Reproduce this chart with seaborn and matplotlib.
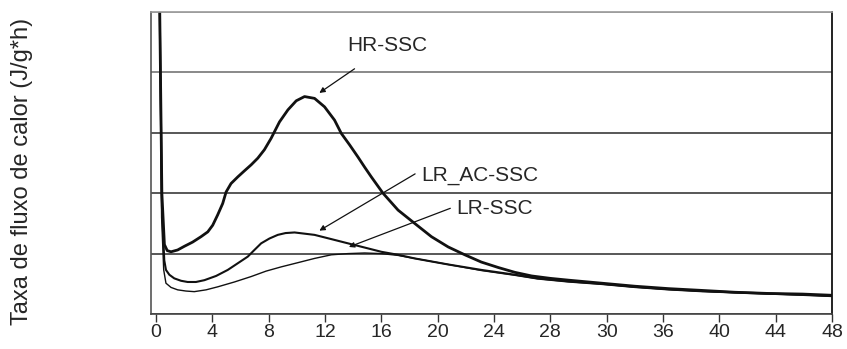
import matplotlib
matplotlib.use("Agg")
import matplotlib.pyplot as plt
import seaborn as sns
import pandas as pd

# Heat-flow curves (J/g*h) versus time (h)
hr_time = [0.25, 0.42, 0.6, 0.8, 1.07, 1.54, 2.01, 2.60, 3.20, 3.68, 4.03, 4.38, 4.74,
           4.98, 5.33, 5.81, 6.28, 6.76, 7.23, 7.70, 8.18, 8.77, 9.37, 9.96, 10.55,
           11.26, 11.97, 12.68, 13.16, 13.75, 14.34, 14.82, 15.29, 16.12, 17.19,
           18.37, 19.56, 20.75, 21.93, 23.1, 24.3, 25.48, 26.67, 28.0, 29.3, 31.65,
           34.0, 36.4, 38.8, 41.1, 43.5, 45.9, 48.0]
hr_flow = [5.4, 2.0, 1.15, 1.05, 1.03, 1.06, 1.12, 1.19, 1.28, 1.36, 1.47, 1.64, 1.83,
           2.02, 2.16, 2.27, 2.37, 2.47, 2.58, 2.72, 2.91, 3.18, 3.38, 3.53, 3.60,
           3.57, 3.43, 3.21, 2.99, 2.80, 2.60, 2.43, 2.27, 2.00, 1.72,
           1.50, 1.28, 1.11, 0.98, 0.86, 0.77, 0.69, 0.63, 0.59, 0.56, 0.51,
           0.46, 0.42, 0.39, 0.36, 0.34, 0.33, 0.31]

lrac_time = [0.25, 0.42, 0.59, 0.71, 0.95, 1.30, 1.78, 2.25, 2.84, 3.44, 4.27, 5.10,
             5.81, 6.52, 6.99, 7.47, 8.06, 8.65, 9.20, 9.84, 11.26, 12.45, 13.63,
             14.82, 16.0, 17.19, 18.37, 20.75, 23.1, 25.5, 27.1, 29.3, 31.65, 34.0,
             36.4, 38.8, 41.1, 43.5, 45.9, 48.0]
lrac_flow = [5.4, 1.8, 0.89, 0.73, 0.65, 0.59, 0.55, 0.53, 0.53, 0.56, 0.63, 0.73,
             0.84, 0.95, 1.06, 1.17, 1.25, 1.31, 1.34, 1.35, 1.31, 1.24, 1.17,
             1.10, 1.03, 0.98, 0.92, 0.82, 0.73, 0.65, 0.59, 0.54, 0.50, 0.45,
             0.41, 0.38, 0.36, 0.34, 0.32, 0.30]

lr_time = [0.25, 0.40, 0.55, 0.71, 1.07, 1.54, 2.13, 2.72, 3.56, 4.39, 5.57, 6.76,
           7.82, 8.89, 10.08, 11.26, 12.45, 13.63, 14.82, 16.0, 17.19, 18.37, 20.75,
           23.1, 25.5, 27.1, 29.3, 31.65, 34.0, 36.4, 38.8, 41.1, 43.5, 45.9, 48.0]
lr_flow = [5.4, 1.6, 0.73, 0.51, 0.44, 0.40, 0.38, 0.37, 0.40, 0.45, 0.53, 0.62,
           0.71, 0.78, 0.85, 0.92, 0.98, 1.00, 1.01, 1.00, 0.97, 0.92, 0.82,
           0.72, 0.64, 0.58, 0.53, 0.49, 0.44, 0.40, 0.37, 0.35, 0.33, 0.31, 0.29]

tick_pos = [0, 4, 8, 12, 16, 20, 24, 28, 32, 36, 40, 44, 48]
tick_labels = ["0", "4", "8", "12", "16", "20", "24", "28", "30", "36", "40", "44", "48"]

y_label = "Taxa de fluxo de calor (J/g*h)"

sns.set_style("white")
plt.rcParams["font.family"] = ["Liberation Sans", "DejaVu Sans"]

fig = plt.figure(figsize=(8.47, 3.49), dpi=100)
ax = fig.add_axes([0.1783, 0.1003, 0.8040, 0.8653])

series = [
    (hr_time, hr_flow, 2.0),
    (lrac_time, lrac_flow, 1.5),
    (lr_time, lr_flow, 1.0),
]
for t, f, lw in series:
    df = pd.DataFrame({"t": t, "f": f})
    sns.lineplot(data=df, x="t", y="f", ax=ax, color="#111111", linewidth=lw,
                 sort=False, estimator=None, solid_joinstyle="round")

ax.set_xlim(-0.35, 48)
ax.set_ylim(0, 5)

ax.set_xticks(tick_pos)
ax.set_xticklabels(tick_labels, fontsize=14)
ax.set_yticks([0, 1, 2, 3, 4, 5])
ax.set_yticklabels([])
ax.tick_params(axis="x", direction="out", length=6, width=1, color="#333333",
               bottom=True, pad=1.5)
ax.tick_params(axis="y", length=0)

ax.yaxis.grid(True, linewidth=1.1, color="#2a2a2a")
ax.xaxis.grid(False)
grid_colors = ["#2a2a2a", "#2a2a2a", "#2a2a2a", "#2a2a2a", "#6a6a6a", "#999999"]
for gl, c in zip(ax.get_ygridlines(), grid_colors):
    gl.set_color(c)

ax.spines["top"].set_color("#9a9a9a")
ax.spines["top"].set_linewidth(1.2)
ax.spines["right"].set_color("#111111")
ax.spines["right"].set_linewidth(1.3)
ax.spines["bottom"].set_color("#444444")
ax.spines["bottom"].set_linewidth(1.2)
ax.spines["left"].set_color("#555555")
ax.spines["left"].set_linewidth(1.2)

ax.set_xlabel("")
ax.set_ylabel("")
fig.text(0.026, 0.51, y_label, rotation=90, ha="center", va="center", fontsize=17)

arrow = dict(arrowstyle="-|>", color="#111111", lw=0.9, mutation_scale=8,
             shrinkA=0, shrinkB=0)
ax.text(16.4, 4.45, "HR-SSC", ha="center", va="center", fontsize=15)
ax.annotate("", xy=(11.6, 3.66), xytext=(14.1, 4.06), arrowprops=arrow)

ax.text(18.85, 2.30, "LR_AC-SSC", ha="left", va="center", fontsize=15)
ax.annotate("", xy=(11.6, 1.38), xytext=(18.4, 2.32), arrowprops=arrow)

ax.text(21.35, 1.75, "LR-SSC", ha="left", va="center", fontsize=15)
ax.annotate("", xy=(13.7, 1.11), xytext=(20.9, 1.75), arrowprops=arrow)

fig.savefig("out.png", dpi=100)
